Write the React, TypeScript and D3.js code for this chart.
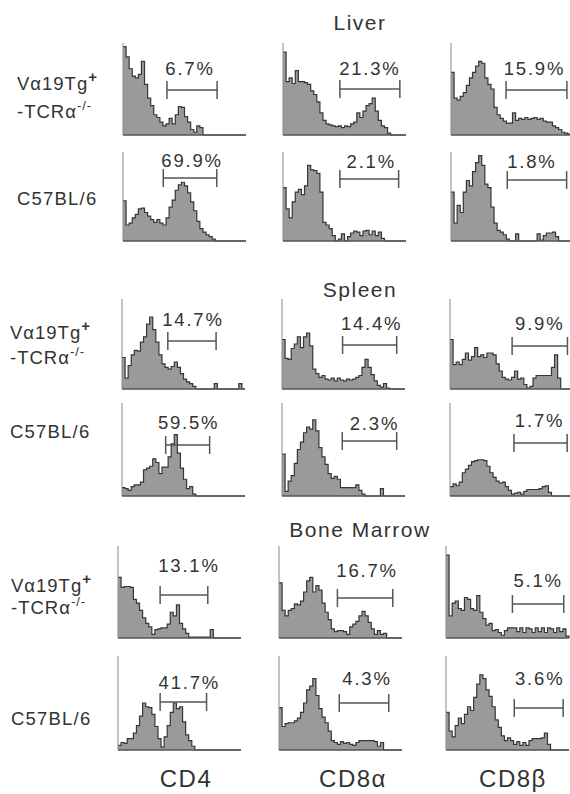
import React from "react";
import * as d3 from "d3";

// bin heights (% of the panel height), 40 channels per histogram
const liverTgCD4 = [96, 85, 72, 64, 62, 66, 80, 55, 40, 32, 22, 19, 14, 10, 12, 18, 12, 22, 31, 30, 20, 14, 6, 3, 10, 8, 0, 0, 0, 0, 0, 0, 0, 0, 0, 0, 0, 0, 0, 0];
const liverTgCD8a = [90, 58, 62, 56, 70, 58, 58, 57, 55, 48, 44, 36, 24, 16, 12, 11, 10, 9, 10, 8, 10, 9, 12, 14, 24, 19, 26, 32, 34, 40, 26, 16, 10, 8, 2, 0, 0, 0, 0, 0];
const liverTgCD8b = [68, 40, 38, 42, 46, 54, 62, 68, 75, 80, 78, 62, 55, 50, 30, 22, 18, 15, 13, 13, 24, 16, 18, 17, 19, 17, 18, 19, 17, 18, 15, 14, 14, 10, 8, 6, 3, 2, 1, 0];
const liverB6CD4 = [45, 18, 20, 26, 30, 36, 37, 32, 28, 24, 21, 24, 20, 18, 26, 38, 46, 57, 63, 66, 62, 54, 44, 34, 22, 14, 10, 7, 5, 2, 0, 0, 0, 0, 0, 0, 0, 0, 0, 0];
const liverB6CD8a = [60, 36, 26, 44, 55, 58, 52, 62, 85, 80, 79, 76, 55, 21, 18, 14, 6, 0, 2, 8, 0, 5, 9, 11, 10, 6, 11, 12, 7, 11, 6, 10, 3, 0, 0, 0, 0, 0, 0, 0];
const liverB6CD8b = [55, 20, 40, 32, 55, 68, 62, 78, 88, 96, 85, 64, 60, 38, 20, 12, 10, 7, 2, 0, 0, 8, 0, 0, 0, 0, 0, 0, 8, 1, 6, 9, 9, 10, 5, 0, 0, 0, 0, 0];

const spleenTgCD4 = [35, 12, 26, 38, 43, 42, 52, 58, 72, 80, 66, 52, 38, 28, 24, 22, 25, 30, 24, 17, 11, 8, 6, 3, 0, 0, 0, 0, 0, 0, 6, 0, 0, 0, 0, 0, 0, 0, 6, 0];
const spleenTgCD8a = [55, 34, 33, 45, 50, 58, 46, 58, 62, 48, 22, 17, 13, 15, 11, 10, 12, 9, 12, 10, 9, 11, 10, 11, 13, 15, 24, 33, 24, 16, 9, 4, 2, 6, 1, 0, 0, 0, 0, 0];
const spleenTgCD8b = [55, 27, 30, 27, 33, 40, 32, 36, 46, 36, 38, 35, 40, 40, 38, 28, 20, 13, 11, 10, 13, 20, 11, 12, 5, 1, 3, 12, 15, 15, 15, 15, 15, 24, 38, 12, 0, 0, 0, 0];
const spleenB6CD4 = [9, 8, 6, 10, 12, 12, 15, 28, 30, 32, 40, 36, 24, 31, 31, 42, 56, 66, 46, 30, 18, 8, 10, 2, 0, 0, 0, 0, 0, 0, 0, 0, 0, 0, 0, 0, 0, 0, 0, 0];
const spleenB6CD8a = [45, 5, 16, 22, 35, 50, 58, 68, 74, 72, 82, 70, 52, 42, 34, 24, 19, 21, 18, 9, 9, 9, 9, 9, 12, 6, 2, 0, 0, 0, 0, 0, 8, 0, 0, 0, 0, 0, 0, 0];
const spleenB6CD8b = [10, 13, 11, 15, 25, 29, 33, 37, 38, 39, 39, 38, 32, 25, 20, 16, 14, 15, 10, 6, 2, 3, 4, 2, 5, 7, 7, 7, 7, 8, 10, 11, 4, 0, 0, 0, 0, 0, 0, 0];

const bmTgCD4 = [66, 55, 56, 56, 55, 42, 38, 30, 22, 16, 12, 4, 9, 10, 11, 11, 15, 28, 24, 36, 16, 10, 5, 1, 1, 1, 1, 1, 1, 1, 9, 0, 0, 0, 0, 0, 0, 0, 0, 0];
const bmTgCD8a = [60, 30, 24, 30, 32, 37, 36, 40, 50, 62, 66, 50, 57, 52, 38, 28, 20, 10, 7, 8, 8, 7, 4, 12, 15, 18, 24, 29, 24, 17, 10, 4, 8, 4, 5, 0, 0, 0, 0, 0];
const bmTgCD8b = [90, 24, 38, 40, 32, 30, 44, 42, 32, 30, 46, 28, 21, 14, 16, 8, 9, 6, 3, 8, 11, 11, 11, 7, 11, 6, 11, 10, 6, 11, 7, 11, 6, 11, 10, 6, 11, 7, 10, 2];
const bmB6CD4 = [5, 8, 7, 12, 12, 18, 26, 36, 50, 46, 45, 38, 25, 12, 3, 14, 26, 40, 50, 44, 46, 30, 16, 10, 4, 0, 0, 0, 0, 0, 0, 0, 0, 0, 0, 0, 0, 0, 0, 0];
const bmB6CD8a = [45, 25, 28, 29, 29, 31, 34, 40, 50, 64, 68, 76, 58, 44, 35, 29, 20, 10, 8, 6, 9, 7, 8, 6, 5, 8, 10, 10, 10, 10, 10, 9, 4, 8, 0, 0, 0, 0, 0, 0];
const bmB6CD8b = [40, 20, 14, 26, 34, 28, 38, 46, 42, 56, 70, 80, 76, 64, 57, 46, 32, 24, 15, 10, 13, 10, 6, 9, 5, 8, 5, 10, 12, 12, 12, 13, 18, 6, 0, 0, 0, 0, 0, 0];

// gate limits in channel units and the percentage inside
const gatesLiver = [[14.3, 30.6], [18.5, 38.0], [17.9, 37.7], [13.1, 30.5], [18.5, 37.6], [18.3, 37.6]];
const gatesSpleen = [[14.9, 30.6], [19.7, 37.3], [20.2, 38.2], [14.2, 28.5], [19.6, 37.3], [20.8, 38.1]];
const gatesMarrow = [[13.7, 29.2], [19.0, 37.0], [21.6, 38.3], [13.7, 28.8], [19.6, 35.7], [22.2, 38.1]];
const pctLiver = ["6.7%", "21.3%", "15.9%", "69.9%", "2.1%", "1.8%"];
const pctSpleen = ["14.7%", "14.4%", "9.9%", "59.5%", "2.3%", "1.7%"];
const pctMarrow = ["13.1%", "16.7%", "5.1%", "41.7%", "4.3%", "3.6%"];

const sections = ["Liver", "Spleen", "Bone Marrow"];
const markers = ["CD4", "CD8α", "CD8β"];

const histograms = [
  [liverTgCD4, liverTgCD8a, liverTgCD8b, liverB6CD4, liverB6CD8a, liverB6CD8b],
  [spleenTgCD4, spleenTgCD8a, spleenTgCD8b, spleenB6CD4, spleenB6CD8a, spleenB6CD8b],
  [bmTgCD4, bmTgCD8a, bmTgCD8b, bmB6CD4, bmB6CD8a, bmB6CD8b],
];
const gates = [gatesLiver, gatesSpleen, gatesMarrow];
const percents = [pctLiver, pctSpleen, pctMarrow];

// layout
const W = 570;
const H = 794;
const BINS = 40;
const PANEL_W = 123;
const rowBase = [135, 241, 389, 496, 638, 750];
const rowTop = [43, 152, 299, 403, 546, 656];
const colLeft = [[123, 283, 451], [122, 282, 450], [118, 279, 446]];
const gateY = [[90, 89, 90], [178, 179, 180], [341, 345, 346], [445, 441, 443], [595, 598, 604], [702, 703, 708]];
const labelY = [[75, 75, 75], [167, 168, 168], [326, 330, 330], [429, 430, 427], [572, 577, 587], [689, 685, 685]];
const labelDx = [[-2, 0, -2], [2, 2, -5], [1, 2, 0], [1, 5, -1], [5, 2, 0], [6, 3, 1]];
const titleY = [30, 297, 537];
const strainX = [17, 10, 11];
const tgLine1 = [90, 339, 592];
const tgLine2 = [118, 364, 614];
const b6Line = [205, 438, 725];
const markerX = [186, 353, 513];

const FONT = "'Liberation Sans', Arial, Helvetica, sans-serif";
const INK = "#333";

type HistProps = {
  values: number[];
  left: number;
  base: number;
  top: number;
  gate: number[];
  pct: string;
  gy: number;
  ly: number;
  dx: number;
};

const Histogram = ({ values, left, base, top, gate, pct, gy, ly, dx }: HistProps) => {
  const x = d3.scaleLinear().domain([0, BINS]).range([left, left + PANEL_W]);
  const y = d3.scaleLinear().domain([0, 100]).range([base, top]);
  const pts: [number, number][] = values.map((v, i) => [i, v] as [number, number]);
  pts.push([values.length, 0]);

  const area = d3
    .area<[number, number]>()
    .x((d) => x(d[0]))
    .y0(base)
    .y1((d) => y(d[1]))
    .curve(d3.curveStepAfter);
  const outline = d3
    .line<[number, number]>()
    .x((d) => x(d[0]))
    .y((d) => y(d[1]))
    .curve(d3.curveStepAfter);

  const g0 = x(gate[0]);
  const g1 = x(gate[1]);

  return (
    <g>
      <path d={area(pts) || ""} fill="#9a9a9a" />
      <path d={outline(pts) || ""} fill="none" stroke="#363636" strokeWidth={1.2} />
      {/* axes */}
      <line x1={left} x2={left} y1={top} y2={base} stroke="#8a8a8a" strokeWidth={1} />
      <line x1={left} x2={left + PANEL_W} y1={base} y2={base} stroke="#555" strokeWidth={1.4} />
      {/* gate */}
      <line x1={g0} x2={g1} y1={gy} y2={gy} stroke="#555" strokeWidth={1.5} />
      <line x1={g0} x2={g0} y1={gy - 9} y2={gy + 9} stroke="#555" strokeWidth={1.5} />
      <line x1={g1} x2={g1} y1={gy - 9} y2={gy + 9} stroke="#555" strokeWidth={1.5} />
      <text
        x={(g0 + g1) / 2 + dx}
        y={ly}
        textAnchor="middle"
        fontSize={18.5}
        letterSpacing={1.8}
        fill={INK}
      >
        {pct}
      </text>
    </g>
  );
};

export default function App() {
  return (
    <div style={{ position: "absolute", left: 0, top: 0 }}>
      <svg width={W} height={H} style={{ display: "block", background: "#fff", fontFamily: FONT }}>
        {sections.map((name, s) => (
          <g key={name}>
            <text x={360} y={titleY[s]} textAnchor="middle" fontSize={21} letterSpacing={1.5} fill={INK}>
              {name}
            </text>
            <text x={strainX[s]} y={tgLine1[s]} fontSize={18.5} letterSpacing={1} fill={INK}>
              Vα19Tg
              <tspan fontSize={15} fontWeight="bold" dy={-8}>+</tspan>
            </text>
            <text x={strainX[s]} y={tgLine2[s]} fontSize={18.5} letterSpacing={1} fill={INK}>
              -TCRα
              <tspan fontSize={13} dy={-8}>-/-</tspan>
            </text>
            <text x={strainX[s]} y={b6Line[s]} fontSize={18.5} letterSpacing={1.2} fill={INK}>
              C57BL/6
            </text>
            {histograms[s].map((vals, k) => {
              const r = s * 2 + Math.floor(k / 3);
              const c = k % 3;
              return (
                <Histogram
                  key={k}
                  values={vals}
                  left={colLeft[s][c]}
                  base={rowBase[r]}
                  top={rowTop[r]}
                  gate={gates[s][k]}
                  pct={percents[s][k]}
                  gy={gateY[r][c]}
                  ly={labelY[r][c]}
                  dx={labelDx[r][c]}
                />
              );
            })}
          </g>
        ))}
        {markers.map((m, i) => (
          <text key={m} x={markerX[i]} y={787} textAnchor="middle" fontSize={24} letterSpacing={1.5} fill={INK}>
            {m}
          </text>
        ))}
      </svg>
    </div>
  );
}
